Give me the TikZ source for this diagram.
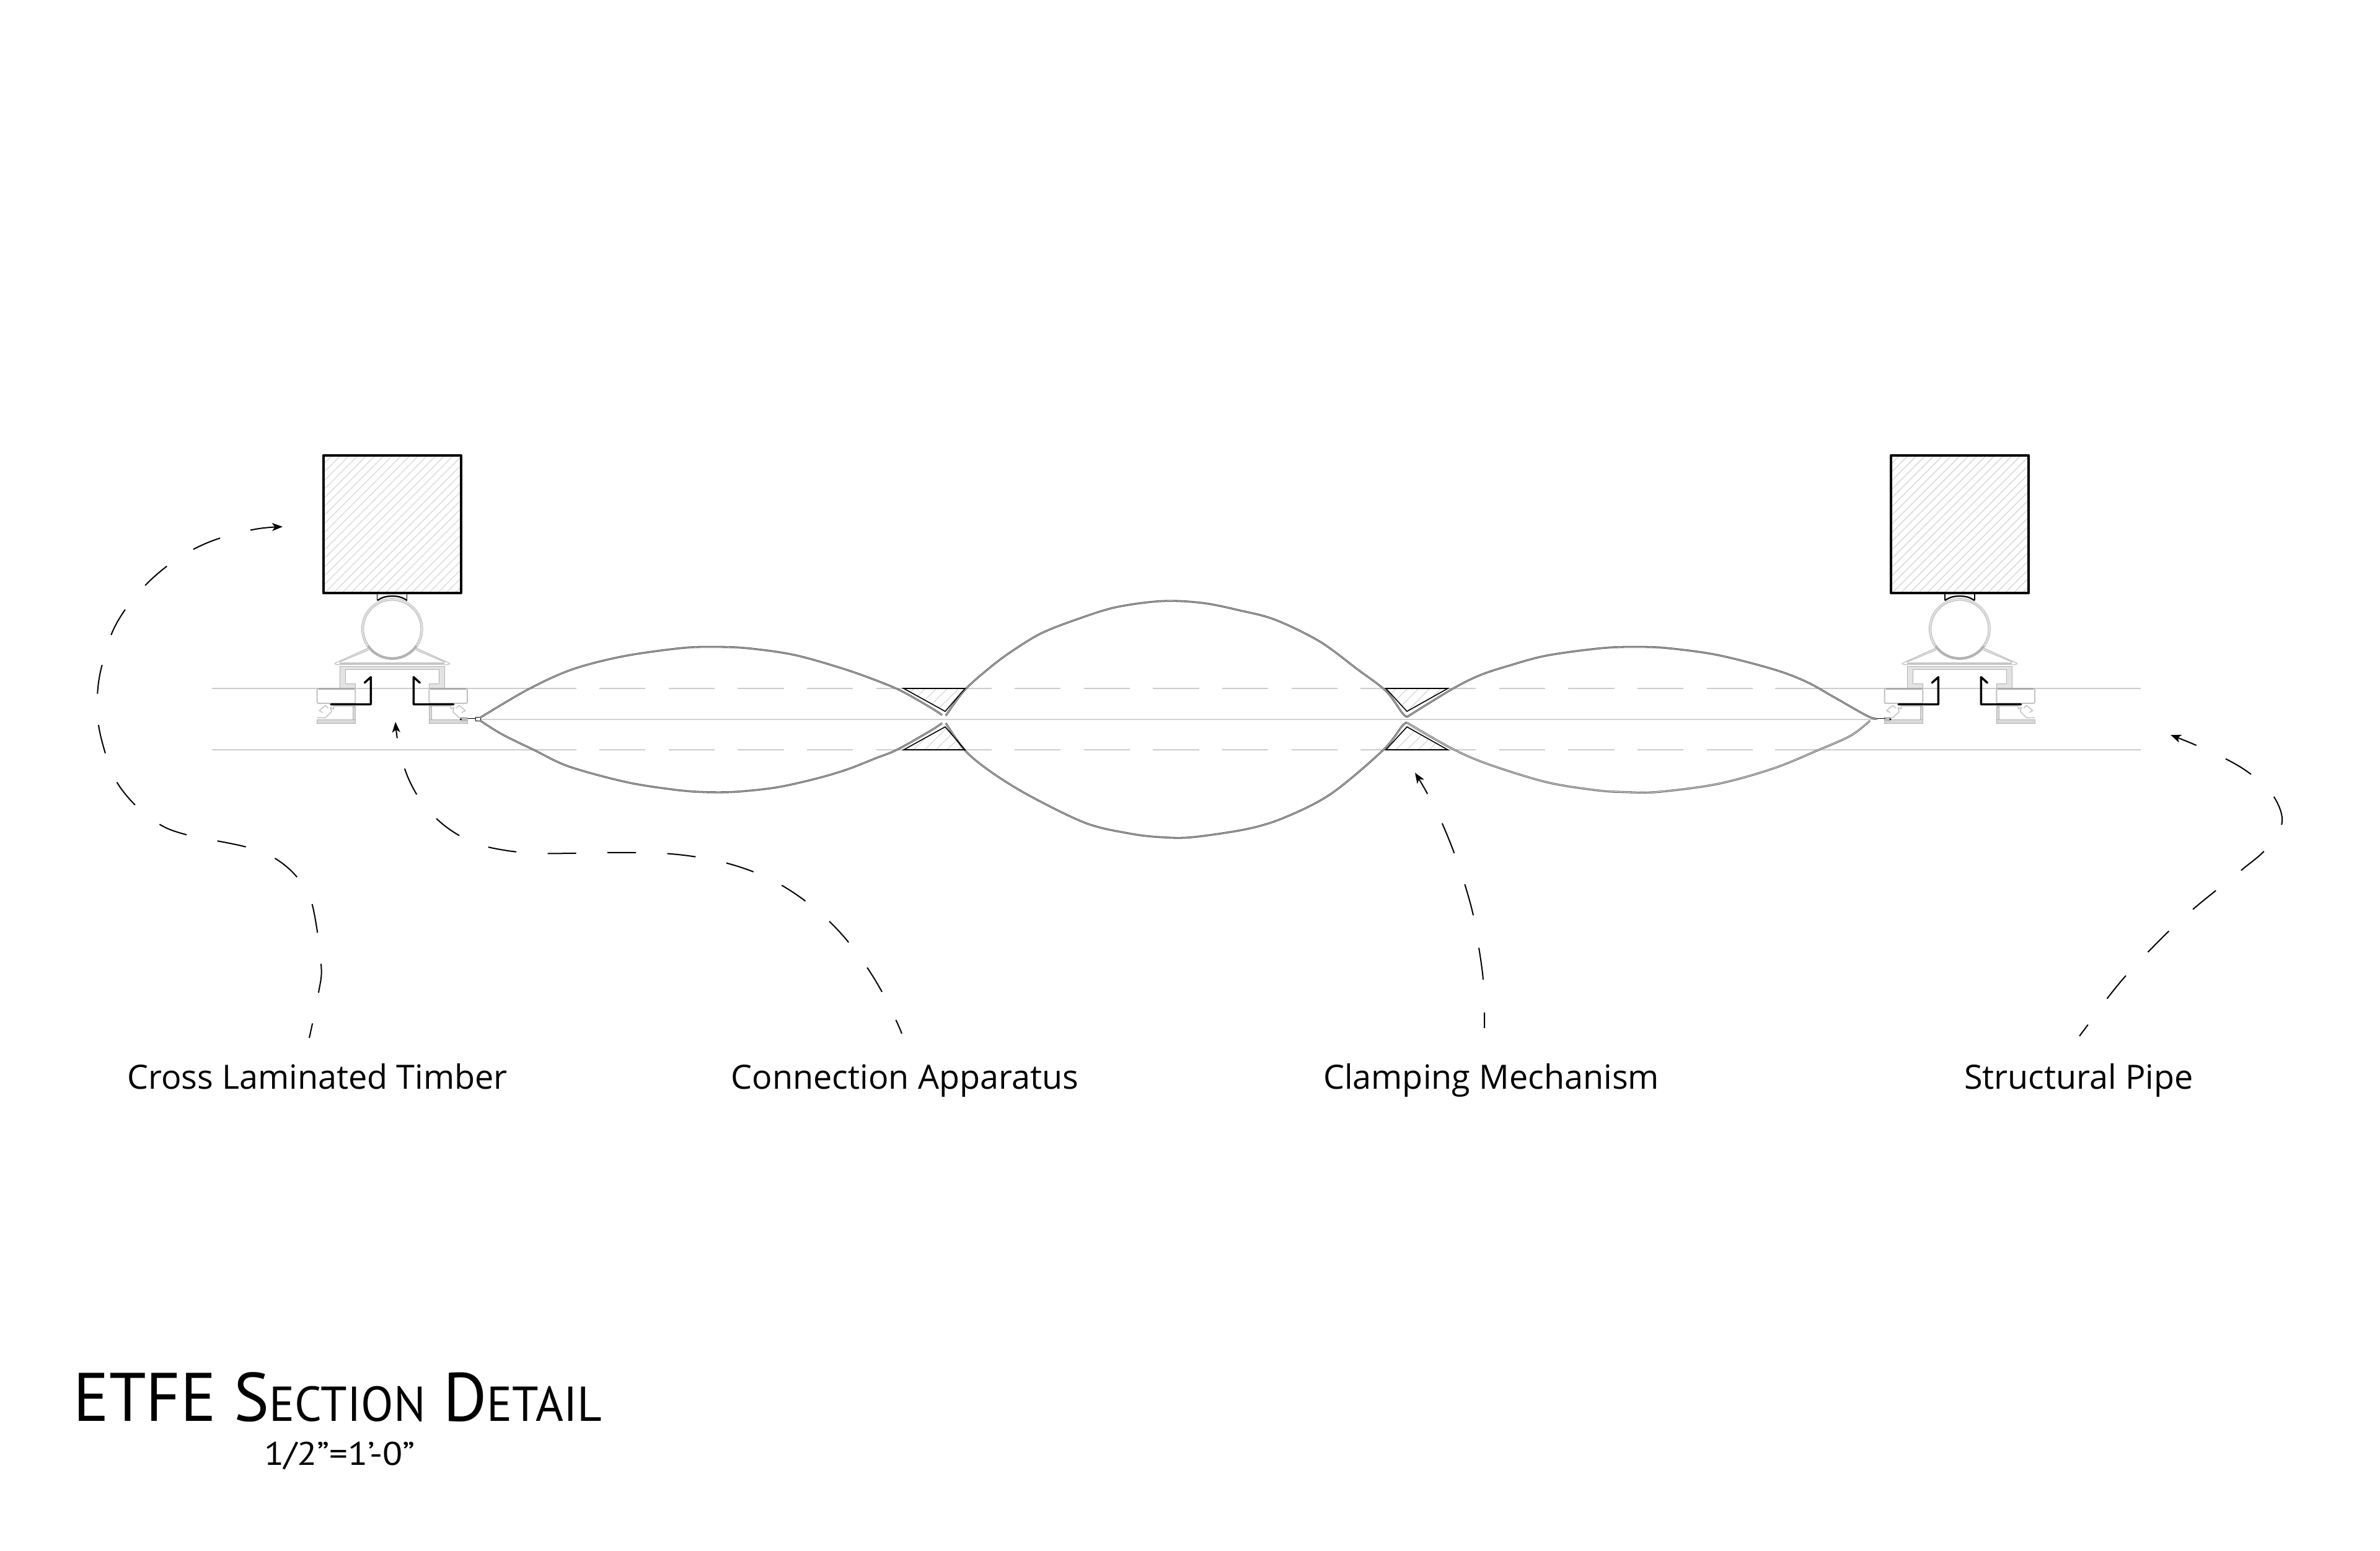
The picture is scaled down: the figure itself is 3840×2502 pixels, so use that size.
\documentclass[tikz,border=0pt]{standalone}
\usepackage{fontspec}
\setmainfont{PT Sans}
\newfontfamily\labelfont{Open Sans}
\usetikzlibrary{arrows.meta}
\tikzset{
 thinline/.style={draw=gray!40,line width=0.013cm},
 centreline/.style={draw=gray!35,line width=0.02cm},
 hatchline/.style={draw=gray!40,line width=0.009cm},
 timber/.style={draw=black,line width=0.04cm,line join=round},
 clampedge/.style={draw=black,line width=0.016cm,line join=miter},
 steel/.style={draw=gray!60,line width=0.009cm,fill=gray!22},
 steelfat/.style={draw=gray!50,line width=0.014cm,line join=round},
 gasket/.style={draw=black,line width=0.034cm,line join=round,line cap=round},
 membrane/.style={draw=black!80,line width=0.009cm,double=gray!30,double distance=0.01cm,line join=round},
 ghost/.style={draw=gray!35,line width=0.012cm},
 leader/.style={draw=black,line width=0.02cm,smooth,tension=0.6},
 tipped/.style={-{Stealth[length=0.17cm,width=0.13cm,inset=0.045cm]}},
 label/.style={anchor=base,inner sep=0,font=\labelfont\fontsize{15.35pt}{18pt}\selectfont},
}
\newcommand{\asmhalf}{%
 % bracket
 \draw[black,line width=0.013cm] (-24,957) -- (-24,969);
 \draw[black,line width=0.022cm] (-24,969) .. controls (-15,963) and (-8,962) .. (0,962);
 % pipe
 \draw[gray!60,line width=0.032cm] plot[domain=35:90,samples=20] ({47.5*cos(\x)},{1015+47.5*sin(\x)});
 % roof and plate
 \fill[gray!22] (-92.8,1070) -- (-39.5,1046) -- (-37.8,1048.3) -- (-84.5,1068.3) -- cycle;
 \draw[gray!60,line width=0.008cm] (-92.8,1070.5) -- (-39.5,1046) (-84.5,1068.3) -- (-37.8,1049);
 \fill[gray!45] (-84.5,1068.5) rectangle (0,1073.3);
 \draw[gray!60,line width=0.01cm] (-92.8,1070.5) -- (-92.8,1071.5) -- (-84.5,1073.3);
 % channel
 \draw[steel] (0,1075) -- (-84.5,1075) -- (-84.5,1110) -- (-59.5,1110) -- (-59.5,1103.3) -- (-75.5,1103.3) -- (-75.5,1080) -- (0,1080);
 % block
 \draw[steelfat,line width=0.018cm,fill=white,rounded corners=0.02cm] (-121.2,1111.3) rectangle (-59.5,1135);
 \draw[gray!65,line width=0.022cm] (-119,1111.5) -- (-61,1111.5);
 % lower parts
 \draw[steel,fill=gray!30] (-121.2,1161.7) rectangle (-59.5,1167.3);
 \draw[steel,fill=gray!30] (-63.5,1140) rectangle (-59.5,1161.7);
 \draw[steelfat] (-60,1139.5) -- (-94.5,1139.5) -- (-94.5,1144) -- (-99.5,1141.7) -- (-97.8,1148.3) -- (-107.8,1158.3) -- (-121.2,1158.3);
 \draw[steelfat] (-112,1150) -- (-117.8,1146.7) -- (-107.8,1138.3) -- (-103.5,1142.7);
 % gasket
 \draw[gasket] (-98.8,1136.7) -- (-34.5,1136.7) -- (-34.5,1092.7) -- (-44.5,1101.7);
}
\newcommand{\assembly}[1]{%
 \begin{scope}[shift={(#1,0)}]
  \draw[gray!60,line width=0.008cm] (0,1015) circle[radius=49.5];
  \draw[gray!25,line width=0.025cm] (0,1015) circle[radius=47.7];
  \draw[gray!60,line width=0.008cm] (0,1015) circle[radius=46];
  \asmhalf
  \begin{scope}[xscale=-1]\asmhalf\end{scope}
  % timber
  \begin{scope}
   \clip (-111,735) rectangle (111,957);
   \foreach \k in {-333,-319,...,111} \draw[hatchline] (\k,957) -- ++(222,-222);
  \end{scope}
  \draw[timber] (-111,735) rectangle (111,957);
 \end{scope}
}
\begin{document}
\begin{tikzpicture}[x=0.01cm,y=-0.01cm]
\useasboundingbox (0,0) rectangle (3840,2502);
\fill[white] (0,0) rectangle (3840,2502);
% datum lines
\coordinate (ta) at (342,1111); \coordinate (tb) at (930,1111); \coordinate (tc) at (967,1111); \coordinate (td) at (2864,1111); \coordinate (te) at (3454,1111);
\coordinate (ba) at (342,1210); \coordinate (bb) at (930,1210); \coordinate (bc) at (967,1210); \coordinate (bd) at (2864,1210); \coordinate (be) at (3454,1210);
\draw[thinline] (ta) -- (tb) (td) -- (te) (ba) -- (bb) (bd) -- (be);
\draw[thinline,dash pattern=on 0.744cm off 0.372cm] (tc) -- (td);
\draw[thinline,dash pattern=on 0.744cm off 0.372cm] (bc) -- (bd);
\coordinate (ca) at (766,1160.5); \coordinate (cb) at (3030,1160.5);
\draw[centreline] (ca) -- (cb);
% assemblies
\assembly{632.8}
\assembly{3161.8}
% membrane ends
\fill[gray!55] (743,1157) rectangle (754,1164);
\fill[black] (743.5,1160.7) circle[radius=1.6];
\draw[black,line width=0.009cm] (754,1159) -- (767,1159);
\draw[black,fill=white,line width=0.009cm] (767,1157) rectangle (775,1163);
\fill[gray!55] (3040,1157) rectangle (3050,1164);
\fill[black] (3050,1160.7) circle[radius=1.6];
\draw[black,line width=0.009cm] (3026,1159) -- (3042,1159);
% clamps
\foreach \xa/\xb/\xc in {1458/1557/1525,2236/2336/2270}{
 \begin{scope}
  \clip (\xa,1111) -- (\xb,1111) -- (\xc,1148) -- cycle;
  \foreach \k in {0,18,...,180} \draw[hatchline] (\xa+\k-40,1150) -- ++(40,-40);
 \end{scope}
 \begin{scope}
  \clip (\xa,1210) -- (\xb,1210) -- (\xc,1173) -- cycle;
  \foreach \k in {0,18,...,180} \draw[hatchline] (\xa+\k-40,1212) -- ++(40,-40);
 \end{scope}
}
% membranes
\begin{scope}[yshift=-0.016cm]
\draw[ghost] plot[smooth,tension=0.55] coordinates {(2270,1168) (2343,1208) (2401,1233) (2495,1262) (2575,1275) (2620,1278) (2673,1278) (2771,1265) (2861,1240) (2932,1211) (2986,1187) (3017,1163)};
\end{scope}
\draw[membrane] plot[smooth,tension=0.55] coordinates {(775,1158) (853,1112) (924,1080) (1006,1059) (1098,1046) (1149,1044) (1205,1046) (1282,1057) (1363,1080) (1424,1102) (1460,1118) (1505,1144) (1520,1154)};
\draw[membrane] plot[smooth,tension=0.55] coordinates {(1526,1155) (1557,1113) (1600,1075) (1634,1050) (1680,1022) (1736,1000) (1800,980) (1875,970) (1940,973) (2000,985) (2057,1000) (2129,1035) (2190,1080) (2236,1115) (2262,1150) (2270,1157)};
\draw[membrane] plot[smooth,tension=0.55] coordinates {(2270,1157) (2343,1112) (2387,1090) (2432,1075) (2495,1058) (2584,1046) (2640,1044) (2691,1046) (2771,1057) (2861,1080) (2914,1100) (2959,1125) (3012,1155) (3028,1160)};
\draw[membrane] plot[smooth,tension=0.55] coordinates {(775,1163) (810,1185) (861,1210) (918,1237) (1010,1262) (1085,1274) (1131,1278) (1183,1278) (1251,1271) (1315,1257) (1366,1242) (1412,1224) (1447,1210) (1500,1180) (1520,1167)};
\draw[membrane] plot[smooth,tension=0.55] coordinates {(1526,1167) (1557,1211) (1598,1245) (1659,1283) (1751,1328) (1822,1345) (1873,1351) (1924,1351) (2016,1337) (2078,1317) (2149,1280) (2231,1211) (2262,1172) (2270,1166)};
\draw[membrane,line width=0.008cm,double=white] plot[smooth,tension=0.55] coordinates {(2270,1166) (2343,1208) (2401,1233) (2495,1262) (2575,1275) (2620,1278) (2673,1278) (2771,1265) (2861,1240) (2932,1211) (2986,1187) (3017,1163)};
% clamp outlines drawn over the membrane
\foreach \xa/\xb/\xc in {1458/1557/1525,2236/2336/2270}{
 \draw[clampedge] (\xa,1111) -- (\xb,1111) -- (\xc,1148) -- cycle;
 \draw[clampedge] (\xa,1210) -- (\xb,1210) -- (\xc,1173) -- cycle;
}
% labels
\node[label] (lblclt) at (512,1757) {Cross Laminated Timber};
\node[label] (lblcon) at (1460,1757) {Connection Apparatus};
\node[label] (lblcla) at (2406,1757) {Clamping Mechanism};
\node[label] (lblpip) at (3354,1757) {Structural Pipe};
% leader ends
\coordinate (s1) at (499,1675); \coordinate (t1) at (456,850);
\coordinate (s2) at (1455,1668); \coordinate (t2) at (638,1165);
\coordinate (s3) at (2395,1659); \coordinate (t3) at (2283,1247);
\coordinate (s4) at (3355,1672); \coordinate (t4) at (3502,1186);
\draw[leader,tipped,dash pattern=on 0.47cm off 0.505cm,dash phase=0.23cm] plot coordinates {(s1) (514,1602) (518,1555) (503,1457) (478,1414) (440,1383) (394,1366) (297,1346) (252,1327) (214,1295) (185,1256) (168,1209) (158,1162) (158,1110) (167,1064) (183,1016) (209,974) (242,937) (280,906) (323,881) (369,864) (418,853) (t1)};
\draw[leader,tipped,dash pattern=on 0.46cm off 0.505cm,dash phase=0.22cm] plot coordinates {(s2) (1445,1645) (1421,1597) (1394,1554) (1361,1511) (1324,1474) (1281,1441) (1237,1416) (1187,1397) (1136,1385) (1083,1378) (1031,1376) (977,1376) (925,1377) (873,1377) (820,1373) (768,1361) (722,1336) (684,1299) (658,1254) (643,1203) (t2)};
\draw[leader,tipped,dash pattern=on 0.52cm off 0.53cm,dash phase=0.27cm] plot coordinates {(s3) (2395,1634) (2393,1581) (2386,1529) (2377,1477) (2363,1426) (2346,1376) (2326,1327) (2302,1279) (t3)};
\draw[leader,tipped,dash pattern=on 0.48cm off 0.52cm,dash phase=0.25cm] plot coordinates {(s4) (3370,1652) (3400,1611) (3432,1572) (3467,1535) (3502,1500) (3541,1465) (3579,1434) (3619,1402) (3657,1369) (3682,1326) (3665,1280) (3627,1246) (3584,1221) (3537,1200) (t4)};
% title
\node[anchor=base west,inner sep=0] (ttl) at (118,2293) {\scalebox{0.97}[1]{\fontsize{31.5pt}{36pt}\selectfont ETFE S{\fontsize{22.5pt}{26pt}\selectfont ECTION} D{\fontsize{22.5pt}{26pt}\selectfont ETAIL}}};
\node[anchor=base,inner sep=0] (scl) at (548,2364) {\scalebox{1.12}[1]{\fontsize{15pt}{18pt}\selectfont 1/2”=1’-0”}};
\end{tikzpicture}
\end{document}
